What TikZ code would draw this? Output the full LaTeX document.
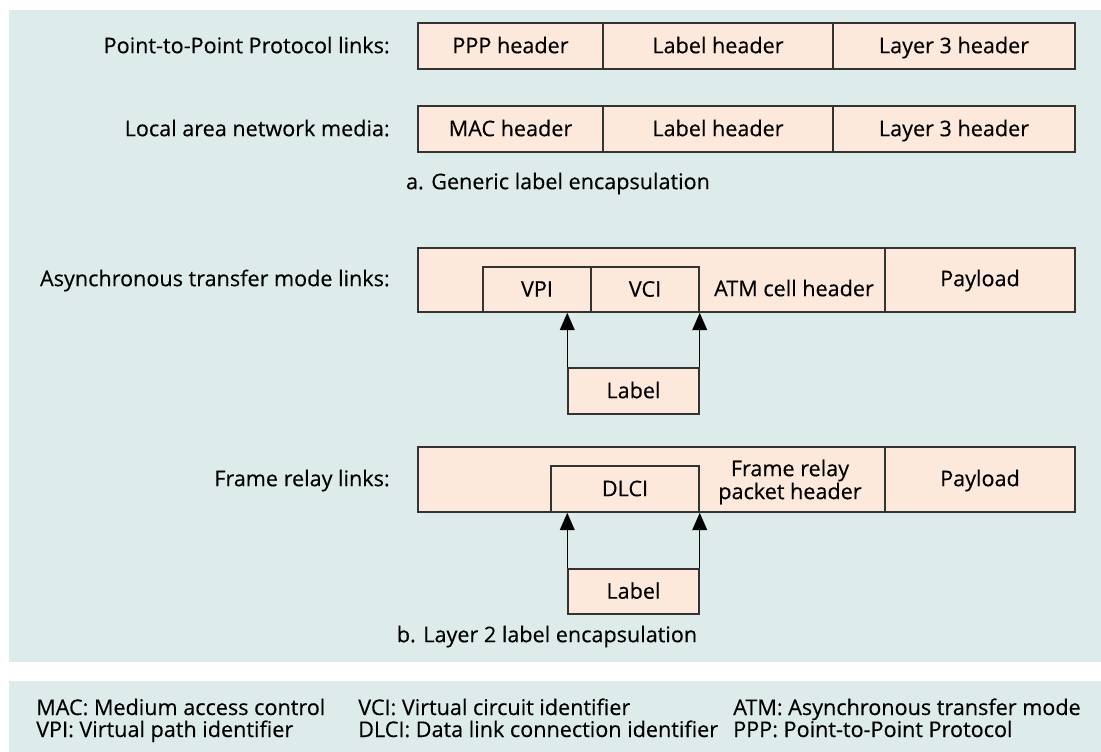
\documentclass[tikz,border=0pt]{standalone}
\usepackage{fontspec}
\setmainfont{Open Sans}[FakeBold=0.35,AutoFakeBold=0.35]
\usetikzlibrary{fit,arrows.meta,shadows}
\definecolor{panel}{HTML}{DDECEB}
\definecolor{peach}{HTML}{FDE8DC}
\definecolor{edgecol}{HTML}{333333}
\begin{document}
\begin{tikzpicture}[x=0.75pt,y=-0.75pt,
  cell/.style={draw=edgecol, fill=peach, line width=1.1pt, inner sep=0pt,
    drop shadow={shadow xshift=0.8pt, shadow yshift=-0.8pt, opacity=0.35, fill=black}},
  flatcell/.style={draw=edgecol, fill=peach, line width=1.1pt, inner sep=0pt},
  txt/.style={inner sep=0pt, font=\fontsize{16.2}{19}\selectfont\bfseries, text=black},
  celltxt/.style={txt, text height=0.72em, text depth=0pt, yshift=-1.8pt},
  legendtxt/.style={inner sep=0pt, anchor=base west, font=\fontsize{16.2}{18}\selectfont\bfseries, text=black},
  arr/.style={draw=black, line width=1.1pt, -{Triangle[length=13pt,width=11pt]}}]
\useasboundingbox (0,0) rectangle (1101,752);
\fill[white] (0,0) rectangle (1101,752);
\fill[panel] (9,10) rectangle (1101,662);
\fill[panel] (9,681) rectangle (1101,752);

% a. generic label encapsulation
\node[celltxt, anchor=east] (lppp) at (390,46) {Point-to-Point Protocol links:};
\node[cell, fit={(418,23)(603,69)}] (ppp) {};
\node[cell, fit={(603,23)(833,69)}] (lh1) {};
\node[cell, fit={(833,23)(1075,69)}] (l31) {};
\node[celltxt] (tppp) at (ppp.center) {PPP header};
\node[celltxt] (tlh1) at (lh1.center) {Label header};
\node[celltxt] (tl31) at (l31.center) {Layer 3 header};

\node[celltxt, anchor=east] (llan) at (390,129) {Local area network media:};
\node[cell, fit={(418,106)(603,152)}] (mac) {};
\node[cell, fit={(603,106)(833,152)}] (lh2) {};
\node[cell, fit={(833,106)(1075,152)}] (l32) {};
\node[celltxt] (tmac) at (mac.center) {MAC header};
\node[celltxt] (tlh2) at (lh2.center) {Label header};
\node[celltxt] (tl32) at (l32.center) {Layer 3 header};

\node[celltxt] (capa) at (558,182) {a. Generic label encapsulation};

% ATM
\node[celltxt, anchor=east] (latm) at (390,279) {Asynchronous transfer mode links:};
\node[cell, fit={(418,248)(885,312)}] (atm) {};
\node[cell, fit={(885,248)(1075,312)}] (pay1) {};
\node[celltxt] (tpay1) at (980,279) {Payload};
\node[flatcell, fit={(483,267)(591,312)}] (vpi) {};
\node[flatcell, fit={(591,267)(699,312)}] (vci) {};
\node[celltxt] (tvpi) at (vpi.center) {VPI};
\node[celltxt] (tvci) at (vci.center) {VCI};
\node[celltxt] (atmtxt) at (794,289) {ATM cell header};
\node[cell, fit={(568,368)(699,414)}] (lab1) {};
\node[celltxt] (tlab1) at (lab1.center) {Label};
\draw[arr] (lab1.north west) -- (lab1.north west |- atm.south);
\draw[arr] (lab1.north east) -- (lab1.north east |- atm.south);

% Frame relay
\node[celltxt, anchor=east] (lfr) at (390,479) {Frame relay links:};
\node[cell, fit={(418,447)(885,512)}] (fr) {};
\node[cell, fit={(885,447)(1075,512)}] (pay2) {};
\node[celltxt] (tpay2) at (980,479) {Payload};
\node[flatcell, fit={(551,466)(699,512)}] (dlci) {};
\node[celltxt] (tdlci) at (dlci.center) {DLCI};
\node[txt, align=center, font=\fontsize{16.2}{15.8}\selectfont\bfseries] (frtxt) at (790,482) {Frame relay\\packet header};
\node[cell, fit={(568,569)(699,614)}] (lab2) {};
\node[celltxt] (tlab2) at (lab2.center) {Label};
\draw[arr] (lab2.north west) -- (lab2.north west |- fr.south);
\draw[arr] (lab2.north east) -- (lab2.north east |- fr.south);

\node[celltxt] (capb) at (547,635) {b. Layer 2 label encapsulation};

% legend
\node[legendtxt] (g1) at (36,715) {MAC: Medium access control};
\node[legendtxt] (g2) at (36,737) {VPI: Virtual path identifier};
\node[legendtxt] (g3) at (358,715) {VCI: Virtual circuit identifier};
\node[legendtxt] (g4) at (358,737) {DLCI: Data link connection identifier};
\node[legendtxt] (g5) at (733,715) {ATM: Asynchronous transfer mode};
\node[legendtxt] (g6) at (733,737) {PPP: Point-to-Point Protocol};
\end{tikzpicture}
\end{document}
